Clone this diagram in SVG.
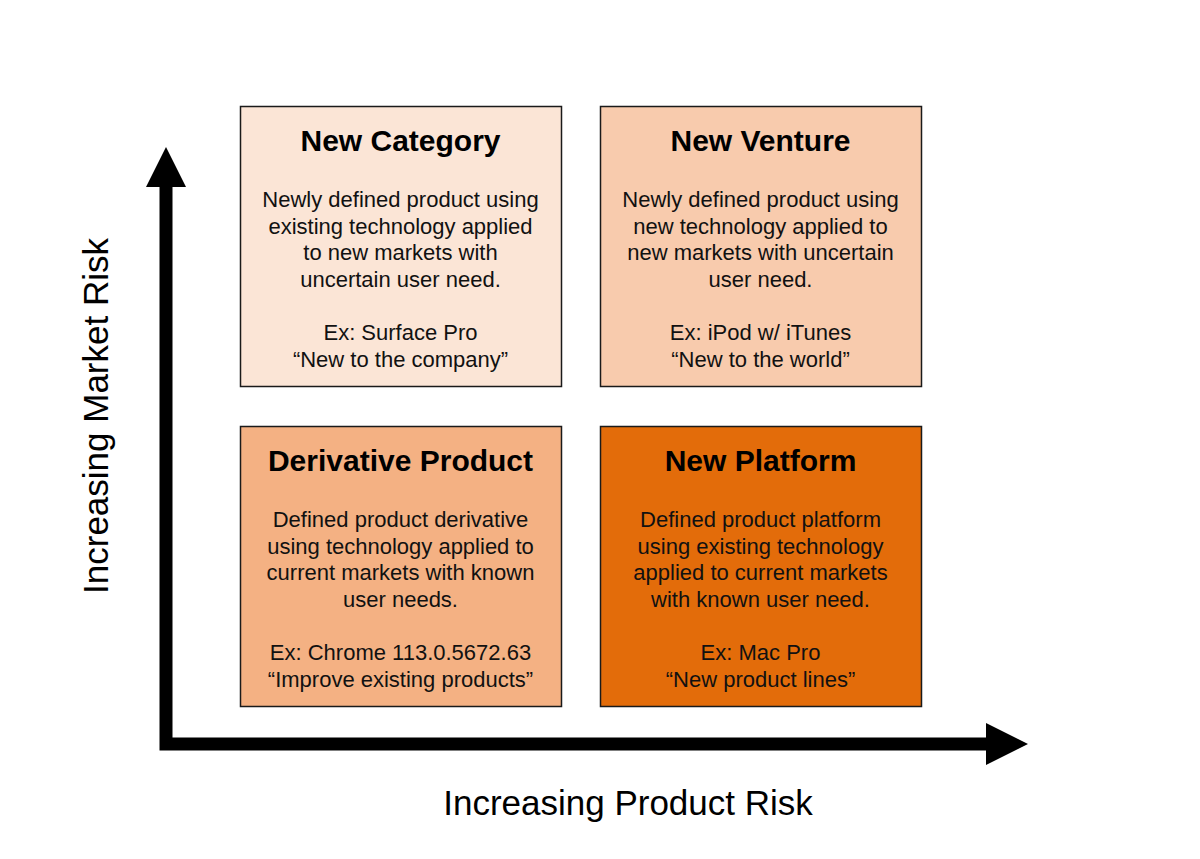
<svg xmlns="http://www.w3.org/2000/svg" width="1200" height="859" viewBox="0 0 1200 859">
<style>
.box{stroke:#1a1a1a;stroke-width:1.5}
.t{font-family:"Liberation Sans",Arial,sans-serif;font-weight:bold;font-size:30px;fill:#000;text-anchor:middle}
.b{font-family:"Liberation Sans",Arial,sans-serif;font-size:22px;fill:#111;text-anchor:middle}
.ax{font-family:"Liberation Sans",Arial,sans-serif;font-size:35px;fill:#000;text-anchor:middle}
</style>
<rect width="1200" height="859" fill="#fff"/>
<g id="connectors">
<path d="M166,187 L166,744 L987,744" fill="none" stroke="#000" stroke-width="13" stroke-linejoin="miter"/>
<polygon points="166,147 186,187 146,187" fill="#000"/>
<polygon points="1028,744 986,723 986,765" fill="#000"/>
</g>
<g id="new-category">
<rect class="box" x="240.5" y="106.5" width="321" height="280" fill="#FBE5D6"/>
<text class="t" x="400.5" y="151">New Category</text>
<text class="b" x="400.5" y="207">Newly defined product using</text>
<text class="b" x="400.5" y="234">existing technology applied</text>
<text class="b" x="400.5" y="260">to new markets with</text>
<text class="b" x="400.5" y="287">uncertain user need.</text>
<text class="b" x="400.5" y="340">Ex: Surface Pro</text>
<text class="b" x="400.5" y="367">“New to the company”</text>
</g>
<g id="new-venture">
<rect class="box" x="600.5" y="106.5" width="321" height="280" fill="#F8CBAD"/>
<text class="t" x="760.5" y="151">New Venture</text>
<text class="b" x="760.5" y="207">Newly defined product using</text>
<text class="b" x="760.5" y="234">new technology applied to</text>
<text class="b" x="760.5" y="260">new markets with uncertain</text>
<text class="b" x="760.5" y="287">user need.</text>
<text class="b" x="760.5" y="340">Ex: iPod w/ iTunes</text>
<text class="b" x="760.5" y="367">“New to the world”</text>
</g>
<g id="derivative-product">
<rect class="box" x="240.5" y="426.5" width="321" height="280" fill="#F4B183"/>
<text class="t" x="400.5" y="471">Derivative Product</text>
<text class="b" x="400.5" y="527">Defined product derivative</text>
<text class="b" x="400.5" y="554">using technology applied to</text>
<text class="b" x="400.5" y="580">current markets with known</text>
<text class="b" x="400.5" y="607">user needs.</text>
<text class="b" x="400.5" y="660">Ex: Chrome 113.0.5672.63</text>
<text class="b" x="400.5" y="687">“Improve existing products”</text>
</g>
<g id="new-platform">
<rect class="box" x="600.5" y="426.5" width="321" height="280" fill="#E36C0A"/>
<text class="t" x="760.5" y="471">New Platform</text>
<text class="b" x="760.5" y="527">Defined product platform</text>
<text class="b" x="760.5" y="554">using existing technology</text>
<text class="b" x="760.5" y="580">applied to current markets</text>
<text class="b" x="760.5" y="607">with known user need.</text>
<text class="b" x="760.5" y="660">Ex: Mac Pro</text>
<text class="b" x="760.5" y="687">“New product lines”</text>
</g>
<g id="axis-labels">
<text class="ax" x="628" y="815">Increasing Product Risk</text>
<text class="ax" transform="translate(108,416) rotate(-90)">Increasing Market Risk</text>
</g>
</svg>
